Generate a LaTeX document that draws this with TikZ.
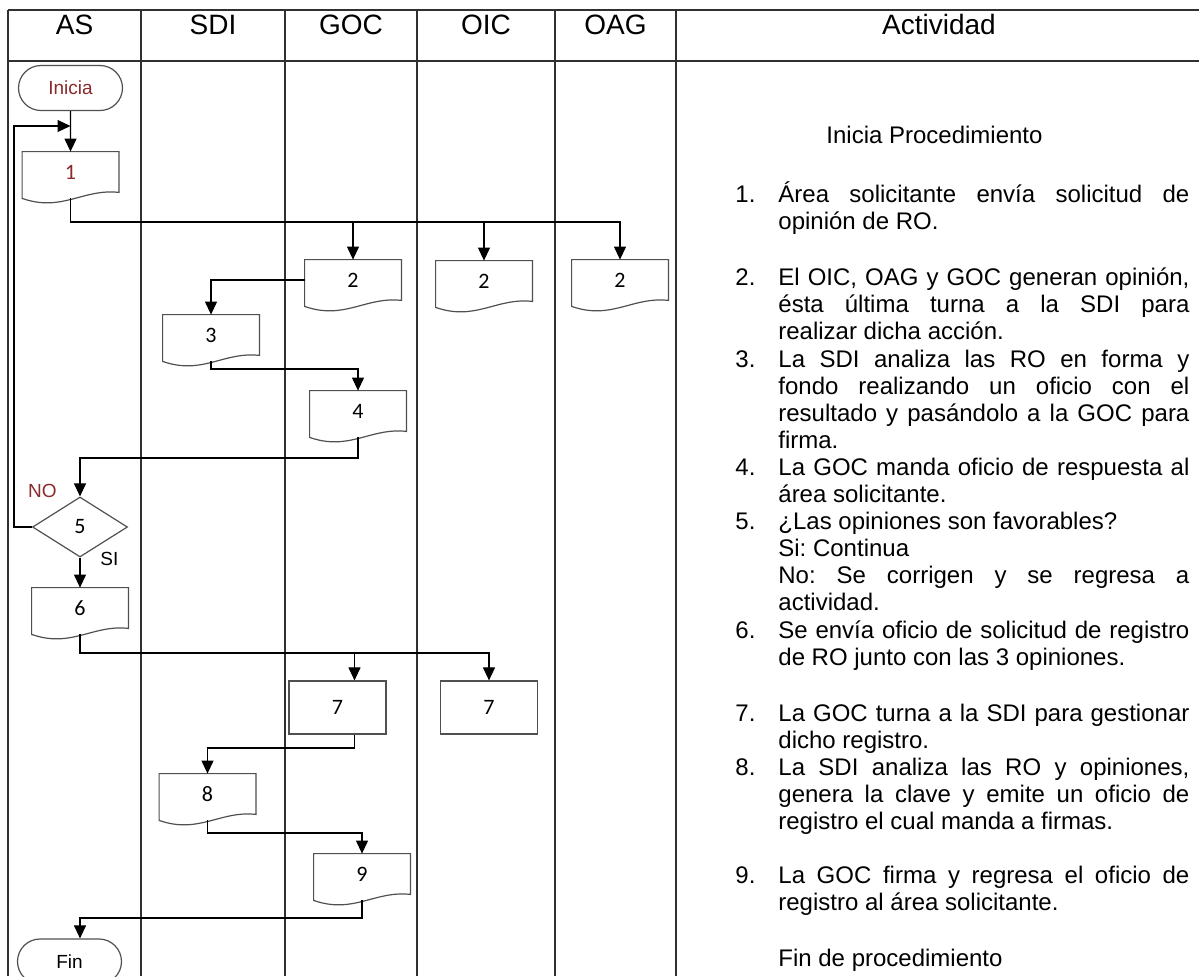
\documentclass[tikz,border=0pt]{standalone}
\usepackage{fontspec}
\setmainfont{Liberation Sans}
\newfontfamily\boxfont{Carlito}
\usetikzlibrary{
  arrows.meta,
  calc,
  positioning,
  shapes.geometric,
  shapes.misc
}
\definecolor{laneink}{HTML}{303030}
\definecolor{boxgray}{HTML}{505050}
\definecolor{startred}{HTML}{8A2A2A}
\tolerance=9999
\hbadness=10000
\frenchspacing

\tikzset{
  laneline/.style={draw=laneink, line width=0.7pt},
  flow/.style={draw=black, line width=0.55pt, -{Triangle[length=6.5pt, width=6pt]}},
  boxline/.style={draw=boxgray, line width=0.6pt},
  terminal/.style={rounded rectangle, boxline, minimum width=52pt, minimum height=22.5pt,
    inner sep=0pt, font=\fontsize{9.5}{11}\selectfont},
  docbox/.style={minimum width=48pt, minimum height=20pt, inner sep=0pt,
    font=\boxfont\fontsize{11}{13}\selectfont,
    append after command={\pgfextra{
      \draw[boxline] (\tikzlastnode.north west) -- (\tikzlastnode.north east)
        -- (\tikzlastnode.south east)
        .. controls +(-18pt,2pt) and +(20pt,-7pt) .. ([yshift=-3pt]\tikzlastnode.south west)
        -- cycle;}}},
  procbox/.style={rectangle, boxline, minimum width=48.5pt, minimum height=26.5pt,
    inner sep=0pt, font=\boxfont\fontsize{11}{13}\selectfont},
  decision/.style={diamond, boxline, minimum width=47.5pt, minimum height=30pt,
    inner sep=0pt, font=\boxfont\fontsize{11}{13}\selectfont},
  lbl/.style={font=\fontsize{9.5}{11}\selectfont, inner sep=0pt},
  head/.style={font=\fontsize{14}{16}\selectfont, anchor=base, inner sep=0pt},
  acnum/.style={font=\fontsize{12}{13.5}\selectfont, anchor=base west, inner sep=0pt},
  actext/.style={acnum, text width=205.5pt, align=justify}
}

\begin{document}
\begin{tikzpicture}[x=0.5pt, y=-0.5pt]
\clip (0,0) rectangle (1199,976);

% lanes and header
\draw[laneline] (8,10) -- (1199,10);
\draw[laneline] (8,61) -- (1199,61);
\foreach \x in {8, 141, 285, 417, 555, 676} {
  \draw[laneline] (\x,10) -- (\x,976);
}
\foreach \x/\t in {74.5/AS, 213/SDI, 351/GOC, 486/OIC, 615.5/OAG, 939/Actividad} {
  \node[head] (h\t) at (\x,34) {\t};
}

% flow shapes
\node[terminal, text=startred] (ini) at (70.5,88) {Inicia};
\node[docbox, text=startred] (b1) at (70.5,172) {1};
\node[docbox] (b2goc) at (353,280) {2};
\node[docbox] (b2oic) at (484,281) {2};
\node[docbox] (b2oag) at (620,280) {2};
\node[docbox] (b3) at (211,335) {3};
\node[docbox] (b4) at (358,411) {4};
\node[decision] (d5) at (80,527) {5};
\node[lbl, text=startred, left=11.5pt of d5.north, yshift=2.5pt] (no) {NO};
\node[lbl, right=10pt of d5.south, yshift=-0.5pt] (si) {SI};
\node[docbox] (b6) at (80,608) {6};
\node[procbox] (p7goc) at (337.5,707.5) {7};
\node[procbox] (p7oic) at (489,707.5) {7};
\node[docbox] (b8) at (207.5,794) {8};
\node[docbox] (b9) at (362,874) {9};
\node[terminal] (fin) at (69.5,961.5) {Fin};

% connectors
\coordinate (back) at (14,126);
\coordinate (bus1) at (0,222);
\coordinate (bus3) at (0,369);
\coordinate (bus4) at (0,458);
\coordinate (bus6) at (0,653);
\coordinate (bus7) at (0,748);
\coordinate (bus8) at (0,833);
\coordinate (bus9) at (0,918);
\coordinate (p7in) at ([xshift=8.5pt]p7goc.north);
\coordinate (p7out) at ([xshift=8.5pt]p7goc.south);
\draw[flow] (ini) -- (b1);
\draw[flow] (d5.west) -| (back) -- (back -| ini.south);
\draw[flow] ([yshift=-3pt]b1.south) |- (bus1 -| b2oag.north) -- (b2oag.north);
\draw[flow] (bus1 -| b2goc.north) -- (b2goc.north);
\draw[flow] (bus1 -| b2oic.north) -- (b2oic.north);
\draw[flow] (b2goc.west) -| (b3.north);
\draw[flow] ([yshift=-3pt]b3.south) |- (bus3 -| b4.north) -- (b4.north);
\draw[flow] ([yshift=-3pt]b4.south) |- (bus4 -| d5.north) -- (d5.north);
\draw[flow] (d5) -- (b6);
\draw[flow] ([yshift=-3pt]b6.south) |- (bus6 -| p7oic.north) -- (p7oic.north);
\draw[flow] (bus6 -| p7in) -- (p7in);
\draw[flow] (p7out) |- (bus7 -| b8.north) -- (b8.north);
\draw[flow] ([yshift=-3pt]b8.south) |- (bus8 -| b9.north) -- (b9.north);
\draw[flow] ([yshift=-3pt]b9.south) |- (bus9 -| d5.south) -- (d5.south |- fin.north);

% activity column
\node[acnum] (ipro) at (826,143) {Inicia Procedimiento};
\foreach \n/\y in {1/202, 2/285, 3/367, 4/475, 5/529, 6/638, 7/721, 8/775, 9/883} {
  \node[acnum] (n\n) at (735,\y) {\n.};
}
\node[actext] (a1) at (778,202) {Área solicitante envía solicitud de\linebreak opinión de RO.};
\node[actext] (a2) at (778,285) {El OIC, OAG y GOC generan opinión,\linebreak ésta última turna a la SDI para\linebreak realizar dicha acción.};
\node[actext] (a3) at (778,367) {La SDI analiza las RO en forma y\linebreak fondo realizando un oficio con el\linebreak resultado y pasándolo a la GOC para\linebreak firma.};
\node[actext] (a4) at (778,475) {La GOC manda oficio de respuesta al\linebreak área solicitante.};
\node[actext] (a5) at (778,529) {¿Las opiniones son favorables?\\ Si: Continua\\ No: Se corrigen y se regresa a\linebreak actividad.};
\node[actext] (a6) at (778,638) {Se envía oficio de solicitud de registro\linebreak de RO junto con las 3 opiniones.};
\node[actext] (a7) at (778,721) {La GOC turna a la SDI para gestionar\linebreak dicho registro.};
\node[actext] (a8) at (778,775) {La SDI analiza las RO y opiniones,\linebreak genera la clave y emite un oficio de\linebreak registro el cual manda a firmas.};
\node[actext] (a9) at (778,883) {La GOC firma y regresa el oficio de\linebreak registro al área solicitante.};
\node[acnum] (fpro) at (778,966) {Fin de procedimiento};
\end{tikzpicture}
\end{document}
